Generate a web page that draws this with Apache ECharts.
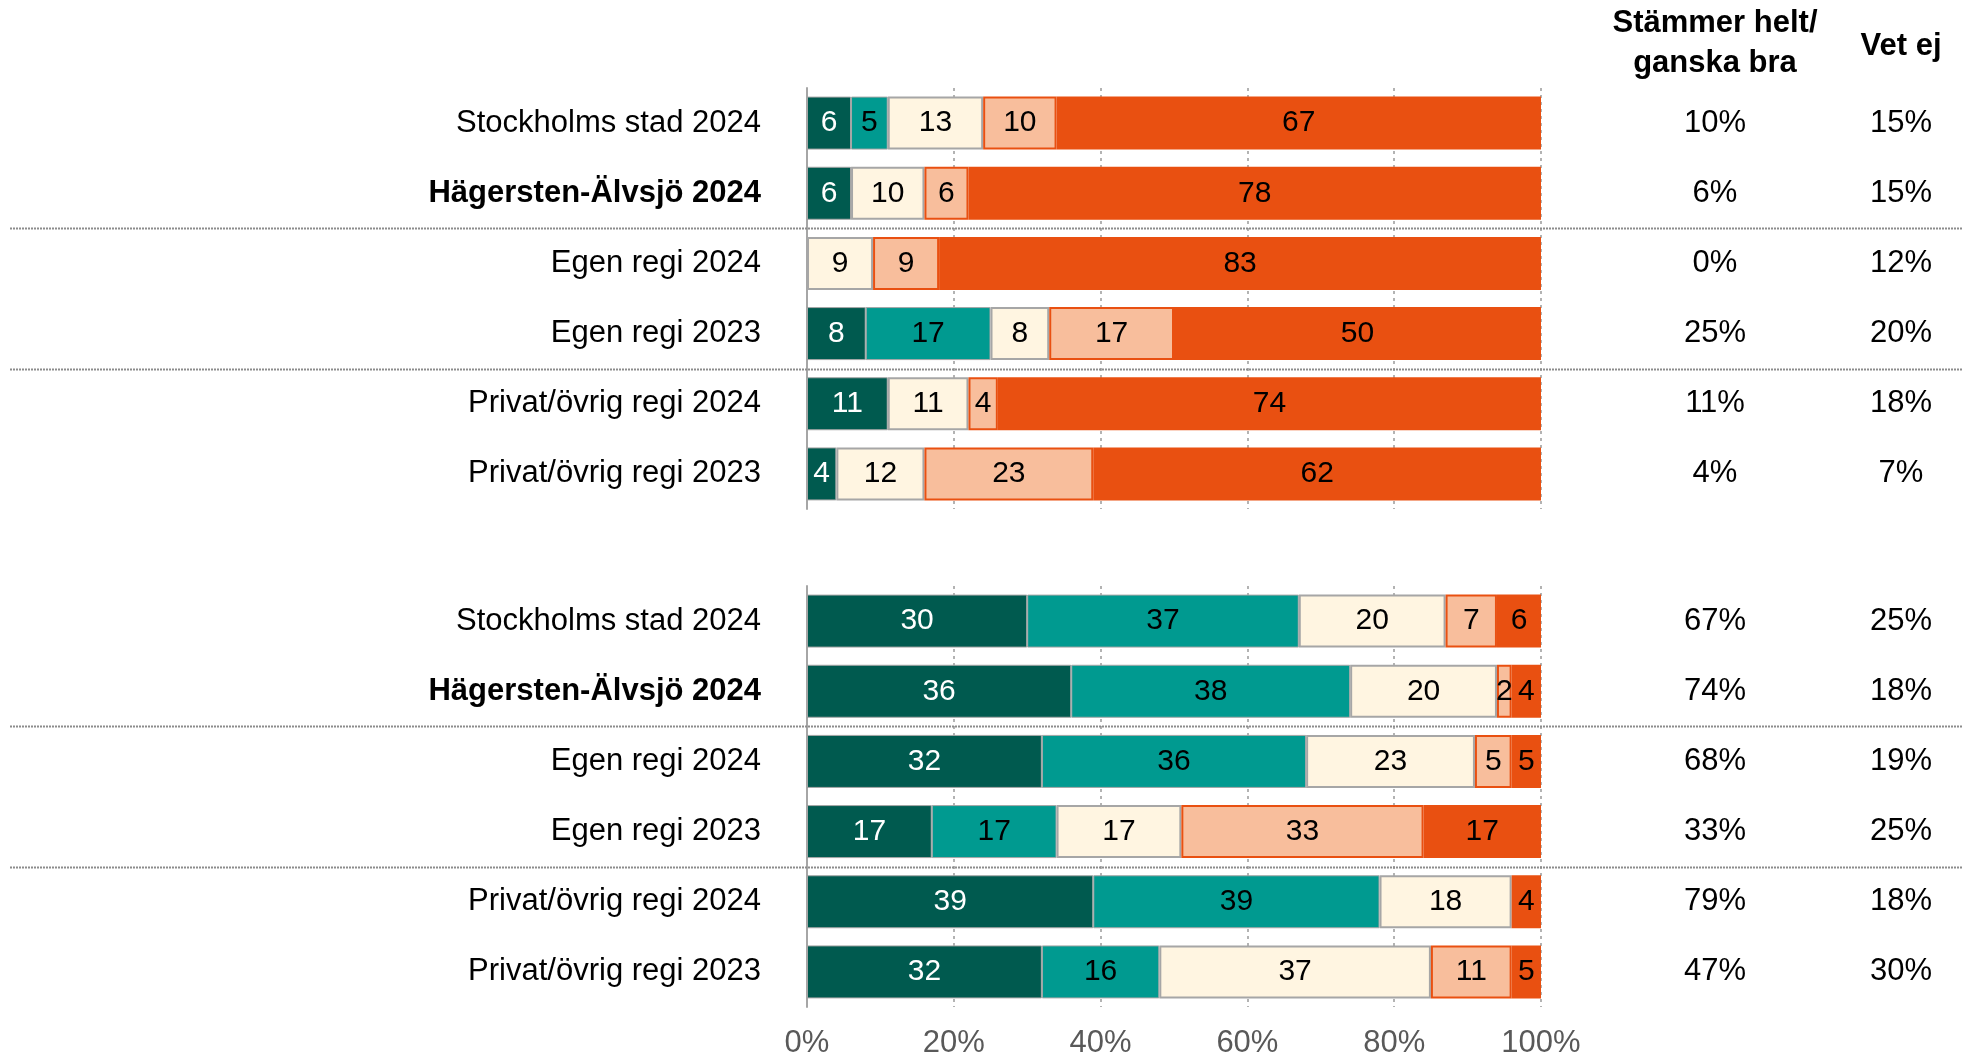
<!DOCTYPE html>
<html>
<head>
<meta charset="utf-8">
<script src="https://cdn.jsdelivr.net/npm/echarts@6/dist/echarts.min.js"></script>
<style>
  html, body { margin: 0; padding: 0; background: #ffffff; }
  #chart { width: 1972px; height: 1059px; }
</style>
</head>
<body>
<div id="chart"></div>
<script>
// Row labels, shared by both blocks (top to bottom)
const categories = ['Stockholms stad 2024', 'Hägersten-Älvsjö 2024', 'Egen regi 2024', 'Egen regi 2023', 'Privat/övrig regi 2024', 'Privat/övrig regi 2023'];
const boldCategory = 'Hägersten-Älvsjö 2024';
const seriesNames = ['Stämmer helt', 'Stämmer ganska bra', 'Varken eller', 'Stämmer ganska dåligt', 'Stämmer inte alls'];

// Upper block (percent per answer)
const upperHelt    = [6, 6, null, 8, 11, 4];
const upperGanska  = [5, null, null, 17, null, null];
const upperVarken  = [13, 10, 9, 8, 11, 12];
const upperDaligt  = [10, 6, 9, 17, 4, 23];
const upperInte    = [67, 78, 83, 50, 74, 62];
const upperBra     = ['10%', '6%', '0%', '25%', '11%', '4%'];
const upperVetEj   = ['15%', '15%', '12%', '20%', '18%', '7%'];

// Lower block (percent per answer)
const lowerHelt    = [30, 36, 32, 17, 39, 32];
const lowerGanska  = [37, 38, 36, 17, 39, 16];
const lowerVarken  = [20, 20, 23, 17, 18, 37];
const lowerDaligt  = [7, 2, 5, 33, null, 11];
const lowerInte    = [6, 4, 5, 17, 4, 5];
const lowerBra     = ['67%', '74%', '68%', '33%', '79%', '47%'];
const lowerVetEj   = ['25%', '18%', '19%', '25%', '18%', '30%'];

// Percentage axis ticks
const xTicks = [0, 20, 40, 60, 80, 100];

const headerBra = 'Stämmer helt/\nganska bra';
const headerVetEj = 'Vet ej';

const FONT = "'Liberation Sans', Arial, sans-serif";
const colors = ['#005A4F', '#009A90', '#FFF5E1', '#F8BE9C', '#E95011'];
const borderColors = ['#A6A6A6', '#A6A6A6', '#A6A6A6', '#E95011', '#E95011'];
const borderWidths = [1, 1, 2, 2, 0];
const labelColors = ['#ffffff', '#000000', '#000000', '#000000', '#000000'];
const braMargin = 174;
const vetMargin = 360;

const chart = echarts.init(document.getElementById('chart'), null, { renderer: 'canvas' });

const grids = [
  { left: 807, width: 734, top: 88, height: 421 },
  { left: 807, width: 734, top: 586, height: 423 }
];

function xAxisFor(gridIndex, showLabels) {
  return {
    type: 'value', gridIndex: gridIndex,
    min: xTicks[0], max: xTicks[xTicks.length - 1], interval: xTicks[1] - xTicks[0],
    axisLine: { show: false }, axisTick: { show: false },
    splitLine: { show: true, lineStyle: { color: '#B3B3B3', width: 2, type: [3, 4] } },
    axisLabel: {
      show: showLabels, margin: 21, fontSize: 31, fontFamily: FONT, color: '#595959',
      formatter: v => v + '%'
    }
  };
}

function yAxesFor(gridIndex, braVals, vetVals) {
  return [
    {
      type: 'category', gridIndex: gridIndex, data: categories, inverse: true,
      axisLine: { show: true, lineStyle: { color: '#A6A6A6', width: 2 } },
      axisTick: { show: false }, splitLine: { show: false },
      axisLabel: {
        margin: 46, fontSize: 31, fontFamily: FONT, color: '#000000',
        formatter: v => v === boldCategory ? '{b|' + v + '}' : v,
        rich: { b: { fontSize: 31, fontFamily: FONT, fontWeight: 'bold', color: '#000000' } }
      }
    },
    {
      type: 'category', gridIndex: gridIndex, data: categories, inverse: true, position: 'right',
      axisLine: { show: false }, axisTick: { show: false }, splitLine: { show: false },
      axisLabel: {
        margin: braMargin, align: 'center', fontSize: 31, fontFamily: FONT, color: '#000000',
        formatter: (v, i) => braVals[i]
      }
    },
    {
      type: 'category', gridIndex: gridIndex, data: categories, inverse: true, position: 'right',
      axisLine: { show: false }, axisTick: { show: false }, splitLine: { show: false },
      axisLabel: {
        margin: vetMargin, align: 'center', fontSize: 31, fontFamily: FONT, color: '#000000',
        formatter: (v, i) => vetVals[i]
      }
    }
  ];
}

function barSeries(gridIndex, values) {
  return values.map((data, k) => ({
    name: seriesNames[k],
    type: 'bar',
    stack: 'block' + gridIndex,
    xAxisIndex: gridIndex,
    yAxisIndex: gridIndex * 3,
    barWidth: 53,
    data: data.map(v => v == null ? '-' : v),
    itemStyle: { color: colors[k], borderColor: borderColors[k], borderWidth: borderWidths[k] },
    label: {
      show: true, position: 'inside', fontSize: 30, fontFamily: FONT,
      color: labelColors[k], formatter: p => p.value
    },
    emphasis: { disabled: true }
  }));
}

chart.setOption({
  animation: false,
  backgroundColor: '#ffffff',
  textStyle: { fontFamily: FONT },
  grid: grids,
  xAxis: [xAxisFor(0, false), xAxisFor(1, true)],
  yAxis: [].concat(yAxesFor(0, upperBra, upperVetEj), yAxesFor(1, lowerBra, lowerVetEj)),
  series: [].concat(
    barSeries(0, [upperHelt, upperGanska, upperVarken, upperDaligt, upperInte]),
    barSeries(1, [lowerHelt, lowerGanska, lowerVarken, lowerDaligt, lowerInte])
  )
});

// Dotted separators between row groups and the column headers on the right
const graphics = [];
const chartWidth = chart.getWidth();
[0, 3].forEach(axisIdx => {
  [[1, 2], [3, 4]].forEach(([a, b]) => {
    const ya = chart.convertToPixel({ yAxisIndex: axisIdx }, categories[a]);
    const yb = chart.convertToPixel({ yAxisIndex: axisIdx }, categories[b]);
    const y = Math.round((ya + yb) / 2) + 0.5;
    graphics.push({
      type: 'line', silent: true, z: 10,
      shape: { x1: 10, y1: y, x2: chartWidth - 10, y2: y },
      style: { stroke: '#8C8C8C', lineWidth: 2, lineDash: [2, 1] }
    });
  });
});
const xEnd = chart.convertToPixel({ xAxisIndex: 0 }, xTicks[xTicks.length - 1]);
graphics.push({
  type: 'text', silent: true,
  x: xEnd + braMargin, y: 43,
  style: {
    text: headerBra, fontSize: 31, fontWeight: 'bold', fontFamily: FONT, fill: '#000000',
    align: 'center', verticalAlign: 'middle', lineHeight: 40
  }
});
graphics.push({
  type: 'text', silent: true,
  x: xEnd + vetMargin, y: 46,
  style: {
    text: headerVetEj, fontSize: 31, fontWeight: 'bold', fontFamily: FONT, fill: '#000000',
    align: 'center', verticalAlign: 'middle'
  }
});
chart.setOption({ graphic: graphics });
</script>
</body>
</html>
